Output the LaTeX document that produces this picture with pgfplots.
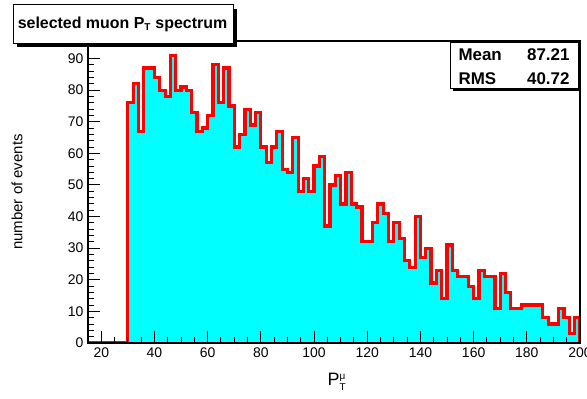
\documentclass[border=0pt]{standalone}
\usepackage{fontspec}
\setmainfont{Liberation Sans}
\usepackage{pgfplots}
\pgfplotsset{compat=1.18}
\definecolor{rootcyan}{RGB}{0,255,255}
\definecolor{rootred}{RGB}{255,0,0}
\begin{document}
\begin{tikzpicture}[x=1bp,y=1bp]
\path[use as bounding box] (0,0) rectangle (587,398);
\begin{axis}[
  at={(88bp,55bp)}, anchor=south west,
  width=492bp, height=302bp, scale only axis,
  xmin=15, xmax=200, ymin=0, ymax=95.55,
  axis on top,
  axis line style={line width=1.6bp},
  tick style={black, line width=1bp},
  major tick length=12bp, minor tick length=6bp,
  xtick={20,40,...,200}, ytick={0,10,...,90},
  minor x tick num=3, minor y tick num=4,
  tick align=inside, tick pos=left,
  /pgf/number format/assume math mode=true,
  ticklabel style={font=\fontsize{14}{14}\selectfont},
  xticklabel style={yshift=-1bp},
  yticklabel style={xshift=-1bp},
  xlabel={P$^{\mbox{\fontsize{10}{10}\selectfont μ}}_{\mbox{\fontsize{10}{10}\selectfont T}}$},
  ylabel={number of events},
  every axis x label/.style={at={(axis description cs:0.506,-0.142)}, anchor=base, font=\fontsize{18}{18}\selectfont},
  every axis y label/.style={at={(axis description cs:-0.1443,0.5)}, rotate=90, anchor=center, font=\fontsize{15}{15}\selectfont},
]
\addplot[draw=none, fill=rootcyan, const plot] coordinates {
(30,76)(32,82)(34,67)(36,87)(38,87)(40,84)(42,80)(44,78)(46,91)(48,80)
(50,81)(52,80)(54,73)(56,67)(58,68)(60,72)(62,88)(64,76)(66,87)(68,75)
(70,62)(72,66)(74,74)(76,69)(78,73)(80,62)(82,57)(84,62)(86,67)(88,55)
(90,54)(92,65)(94,48)(96,52)(98,48)(100,56)(102,59)(104,37)(106,50)(108,53)
(110,44)(112,54)(114,44)(116,43)(118,32)(120,32)(122,38)(124,44)(126,41)(128,32)
(130,38)(132,33)(134,26)(136,24)(138,40)(140,27)(142,30)(144,19)(146,23)(148,14)
(150,31)(152,23)(154,21)(156,21)(158,18)(160,14)(162,23)(164,21)(166,21)(168,11)
(170,22)(172,16)(174,11)(176,11)(178,12)(180,12)(182,12)(184,12)(186,8)(188,6)
(190,6)(192,11)(194,8)(196,3)(198,8)(200,8)
} \closedcycle;
\addplot[rootred, line width=3.2bp, const plot] coordinates {
(15,0)
(30,76)(32,82)(34,67)(36,87)(38,87)(40,84)(42,80)(44,78)(46,91)(48,80)
(50,81)(52,80)(54,73)(56,67)(58,68)(60,72)(62,88)(64,76)(66,87)(68,75)
(70,62)(72,66)(74,74)(76,69)(78,73)(80,62)(82,57)(84,62)(86,67)(88,55)
(90,54)(92,65)(94,48)(96,52)(98,48)(100,56)(102,59)(104,37)(106,50)(108,53)
(110,44)(112,54)(114,44)(116,43)(118,32)(120,32)(122,38)(124,44)(126,41)(128,32)
(130,38)(132,33)(134,26)(136,24)(138,40)(140,27)(142,30)(144,19)(146,23)(148,14)
(150,31)(152,23)(154,21)(156,21)(158,18)(160,14)(162,23)(164,21)(166,21)(168,11)
(170,22)(172,16)(174,11)(176,11)(178,12)(180,12)(182,12)(184,12)(186,8)(188,6)
(190,6)(192,11)(194,8)(196,3)(198,8)(200,0)
};
\end{axis}
% title box with shadow
\fill[black] (17,351) rectangle (237,389);
\draw[fill=white, line width=1bp] (13,355) rectangle (233,393);
\node[font=\bfseries\fontsize{16}{16}\selectfont] at (122.5,374) {selected muon P$_{\mbox{\fontsize{10}{10}\selectfont\bfseries T}}$ spectrum};
% stats box with shadow
\fill[black] (453,307) rectangle (581,353);
\draw[fill=white, line width=1bp] (450,310) rectangle (578,356);
\node[font=\bfseries\fontsize{17}{17}\selectfont, anchor=west] at (455,343) {Mean};
\node[font=\bfseries\fontsize{17}{17}\selectfont, anchor=east] at (573,343) {87.21};
\node[font=\bfseries\fontsize{17}{17}\selectfont, anchor=west] at (455,319) {RMS};
\node[font=\bfseries\fontsize{17}{17}\selectfont, anchor=east] at (573,319) {40.72};
\end{tikzpicture}
\end{document}
